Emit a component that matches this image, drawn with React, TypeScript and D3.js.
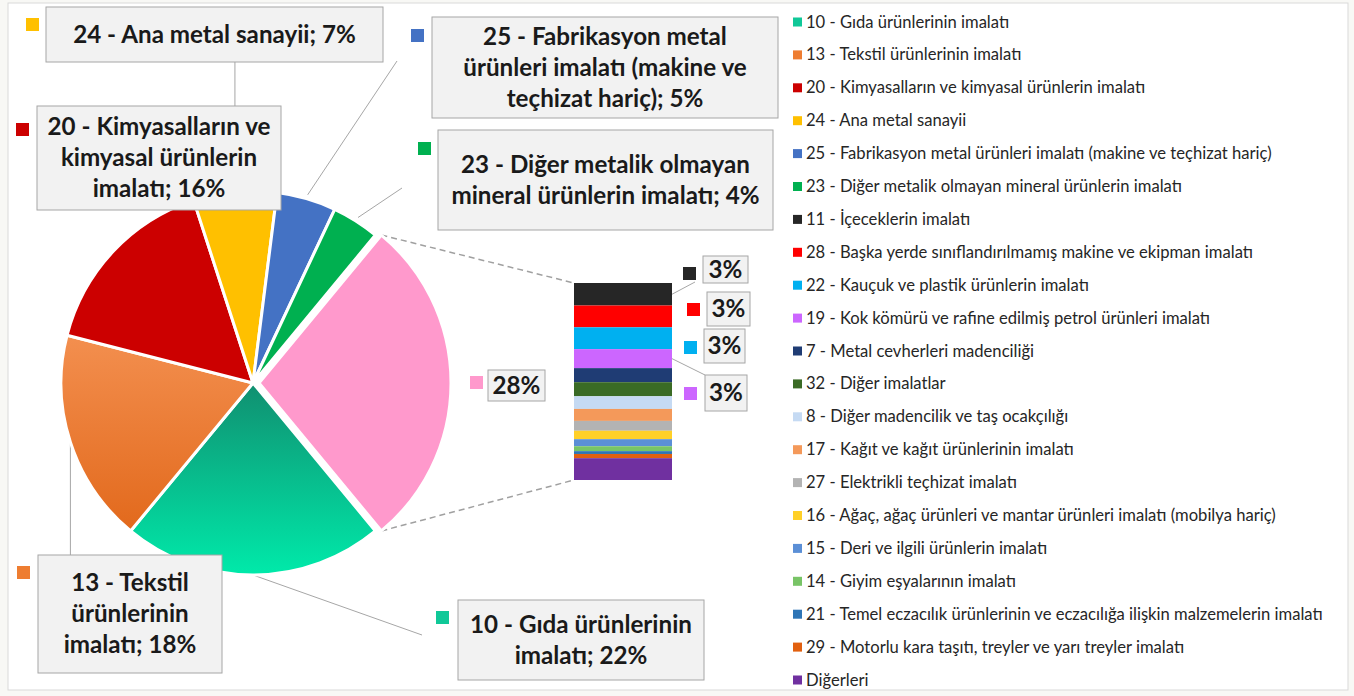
import React from "react";
import * as d3 from "d3";

// ---------- DATA ----------
const pieCategories = [
  "10 - Gıda ürünlerinin imalatı",
  "13 - Tekstil ürünlerinin imalatı",
  "20 - Kimyasalların ve kimyasal ürünlerin imalatı",
  "24 - Ana metal sanayii",
  "25 - Fabrikasyon metal ürünleri imalatı (makine ve teçhizat hariç)",
  "23 - Diğer metalik olmayan mineral ürünlerin imalatı",
];
const pieValues = [22, 18, 16, 7, 5, 4];
const pieColors = ["#07c896", "#ee7d31", "#cc0000", "#ffc000", "#4472c4", "#00b050"];
const otherColor = "#ff99cc";

const barCategories = [
  "11 - İçeceklerin imalatı",
  "28 - Başka yerde sınıflandırılmamış makine ve ekipman imalatı",
  "22 - Kauçuk ve plastik ürünlerin imalatı",
  "19 - Kok kömürü ve rafine edilmiş petrol ürünleri imalatı",
  "7 - Metal cevherleri madenciliği",
  "32 - Diğer imalatlar",
  "8 - Diğer madencilik ve taş ocakçılığı",
  "17 - Kağıt ve kağıt ürünlerinin imalatı",
  "27 - Elektrikli teçhizat imalatı",
  "16 - Ağaç, ağaç ürünleri ve mantar ürünleri imalatı (mobilya hariç)",
  "15 - Deri ve ilgili ürünlerin imalatı",
  "14 - Giyim eşyalarının imalatı",
  "21 - Temel eczacılık ürünlerinin ve eczacılığa ilişkin malzemelerin imalatı",
  "29 - Motorlu kara taşıtı, treyler ve yarı treyler imalatı",
  "Diğerleri",
];
const barValues = [3.2, 3.1, 3.1, 2.7, 2.0, 2.0, 1.8, 1.7, 1.4, 1.2, 1.0, 0.7, 0.4, 0.6, 3.1];
const barColors = [
  "#262626", "#ff0000", "#00b0f0", "#cc66ff", "#1f3c74", "#3a6b25", "#c5daf3",
  "#f4995a", "#b3b3b3", "#ffd028", "#5b8fd6", "#78c466", "#2e75b6", "#e2600f", "#7030a0",
];
// words per line for the wrapped pie labels
const pieLabelWrap = [[4], [3, 1], [4, 2], [], [4, 4], [5]];

// ---------- LAYOUT ----------
const W = 1354, H = 696;
const cx = 253, cy = 383, R = 192;
const explode = 6;
const bar = { x0: 574, x1: 672, y0: 283, y1: 480 };
const labelBoxes = [
  { x: 458, y: 600, w: 246, h: 80, sx: 436, sy: 611 },
  { x: 38, y: 555, w: 184, h: 118, sx: 17, sy: 566 },
  { x: 37, y: 106, w: 244, h: 104, sx: 16, sy: 123 },
  { x: 46, y: 7, w: 337, h: 55, sx: 26, sy: 18 },
  { x: 432, y: 17, w: 346, h: 101, sx: 411, sy: 29 },
  { x: 438, y: 130, w: 335, h: 100, sx: 418, sy: 142 },
];
const otherBox = { x: 488, y: 370, w: 57, h: 31, sx: 470, sy: 376 };
const barLabelBoxes = [
  { x: 703, y: 256, w: 45, h: 27, sx: 683, sy: 267 },
  { x: 707, y: 292, w: 43, h: 34, sx: 687, sy: 303 },
  { x: 704, y: 329, w: 41, h: 34, sx: 684, sy: 341 },
  { x: 705, y: 375, w: 42, h: 36, sx: 684, sy: 387 },
];
const FONT = "Lato, 'Open Sans', sans-serif";
const boxFill = "#f2f2f2";
const boxStroke = "#a6a6a6";
const leaderColor = "#a6a6a6";
const textColor = "#1a1a1a";

const pct = d3.format(".0%");

function wrapLabel(text: string, wrap: number[]): string[] {
  const words = text.split(" ");
  const lines: string[] = [];
  let i = 0;
  for (const n of wrap) {
    lines.push(words.slice(i, i + n).join(" "));
    i += n;
  }
  if (i < words.length) lines.push(words.slice(i).join(" "));
  return lines;
}

export default function App() {
  const otherTotal = d3.sum(barValues);
  const total = d3.sum(pieValues) + otherTotal;
  const pieData = [otherTotal, ...pieValues];
  const a0 = Math.PI / 2 - (otherTotal / total) * Math.PI;
  const arcs = d3
    .pie<number>()
    .sort(null)
    .value((d) => d)
    .startAngle(a0)
    .endAngle(a0 + 2 * Math.PI)(pieData);
  const arcGen = d3.arc<d3.PieArcDatum<number>>().innerRadius(0).outerRadius(R);

  const pt = (a: number, r: number) => [cx + r * Math.sin(a), cy - r * Math.cos(a)];

  const y = d3.scaleLinear().domain([0, otherTotal]).range([bar.y0, bar.y1]);
  const cum = d3.cumsum(barValues);

  const otherArc = arcs[0];
  const pinkTop = pt(otherArc.startAngle, R);
  const pinkBot = pt(otherArc.endAngle, R);

  const legendItems = [
    ...pieCategories.map((c, i) => ({ c, color: i === 0 ? "#10c898" : pieColors[i] })),
    ...barCategories.map((c, i) => ({ c, color: barColors[i] })),
  ];
  const legendY = d3.scalePoint<number>().domain(d3.range(legendItems.length)).range([22, 680]);

  const mid = (i: number) => (arcs[i + 1].startAngle + arcs[i + 1].endAngle) / 2;
  const leaders: number[][][] = [];
  {
    const p10 = pt(mid(0), R);
    leaders.push([p10, [422, 635]]);
    const p13 = pt(mid(1), R);
    leaders.push([p13, [p13[0], labelBoxes[1].y]]);
    const p24 = pt(mid(3), R);
    leaders.push([p24, [p24[0], labelBoxes[3].y + labelBoxes[3].h]]);
    const p25 = pt(mid(4), R + 4);
    leaders.push([p25, [397, 61]]);
    const p23 = pt(mid(5), R + 4);
    leaders.push([p23, [402, 188]]);
  }

  const lineH = 31;
  const bigSize = 24.2;

  const renderBox = (b: any, color: string, lines: string[], fs: number, key: string) => (
    <g key={key}>
      <rect x={b.sx} y={b.sy} width={13} height={13} fill={color} />
      <rect x={b.x} y={b.y} width={b.w} height={b.h} fill={boxFill} stroke={boxStroke} strokeWidth={1} />
      {lines.map((l, j) => (
        <text
          key={j}
          x={b.x + b.w / 2}
          y={b.y + b.h / 2 + (j - (lines.length - 1) / 2) * lineH + fs * 0.35}
          textAnchor="middle"
          fontFamily={FONT}
          fontWeight="bold"
          fontSize={fs}
          fill={textColor}
        >
          {l}
        </text>
      ))}
    </g>
  );

  return (
    <svg
      width={W}
      height={H}
      style={{ position: "absolute", left: 0, top: 0, background: "#f8f8f5" }}
    >
      <defs>
        <linearGradient id="g0" x1="0" y1="0" x2="0" y2="1">
          <stop offset="0" stopColor="#108f70" />
          <stop offset="1" stopColor="#00eaaa" />
        </linearGradient>
        <linearGradient id="g1" x1="0" y1="0" x2="0" y2="1">
          <stop offset="0" stopColor="#f38f4f" />
          <stop offset="1" stopColor="#e2691c" />
        </linearGradient>
      </defs>
      <rect x={8} y={3} width={1340} height={687} fill="#ffffff" stroke="#d9d9d9" strokeWidth={1} />

      {/* dashed connectors */}
      <line x1={pinkTop[0] + explode} y1={pinkTop[1]} x2={bar.x0} y2={bar.y0} stroke="#a0a0a0" strokeWidth={1.5} strokeDasharray="6,4" />
      <line x1={pinkBot[0] + explode} y1={pinkBot[1]} x2={bar.x0} y2={bar.y1} stroke="#a0a0a0" strokeWidth={1.5} strokeDasharray="6,4" />

      {/* leaders */}
      {leaders.map((l, i) => (
        <line key={i} x1={l[0][0]} y1={l[0][1]} x2={l[1][0]} y2={l[1][1]} stroke={leaderColor} strokeWidth={1} />
      ))}
      <line x1={695} y1={282} x2={bar.x1} y2={(y(0) + y(cum[0])) / 2} stroke={leaderColor} strokeWidth={1} />
      <line x1={bar.x1} y1={(y(cum[2]) + y(cum[3])) / 2} x2={705} y2={375} stroke={leaderColor} strokeWidth={1} />

      {/* pie */}
      {arcs.map((a, i) => {
        const fill = i === 0 ? otherColor : i === 1 ? "url(#g0)" : i === 2 ? "url(#g1)" : pieColors[i - 1];
        const dx = i === 0 ? explode : 0;
        return (
          <path
            key={i}
            d={arcGen(a) as string}
            transform={`translate(${cx + dx},${cy})`}
            fill={fill}
            stroke="#ffffff"
            strokeWidth={3}
            strokeLinejoin="round"
          />
        );
      })}

      {/* bar of pie */}
      {barValues.map((v, i) => (
        <rect
          key={i}
          x={bar.x0}
          y={y(cum[i] - v)}
          width={bar.x1 - bar.x0}
          height={y(cum[i]) - y(cum[i] - v)}
          fill={barColors[i]}
        />
      ))}

      {/* pie labels */}
      {pieValues.map((v, i) =>
        renderBox(
          labelBoxes[i],
          i === 0 ? "#10c898" : pieColors[i],
          wrapLabel(`${pieCategories[i]}; ${pct(v / 100)}`, pieLabelWrap[i]),
          bigSize,
          "pl" + i
        )
      )}
      {renderBox(otherBox, otherColor, [pct(otherTotal / 100)], bigSize, "other")}
      {barLabelBoxes.map((b, i) => renderBox(b, barColors[i], [pct(barValues[i] / 100)], bigSize, "bl" + i))}

      {/* legend */}
      {legendItems.map((it, i) => (
        <g key={i} transform={`translate(793,${legendY(i)})`}>
          <rect x={0} y={-4.5} width={9} height={9} fill={it.color} />
          <text x={13} y={5.5} fontFamily={FONT} fontSize={16.6} fill="#262626">
            {it.c}
          </text>
        </g>
      ))}
    </svg>
  );
}
